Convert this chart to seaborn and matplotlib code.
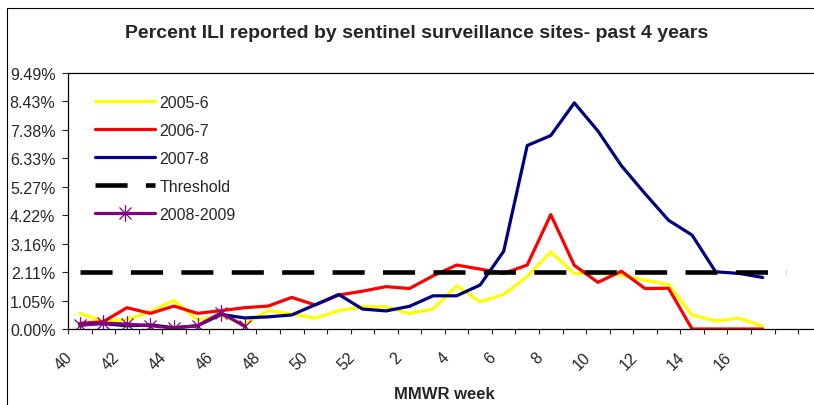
import numpy as np
import pandas as pd
import seaborn as sns
import matplotlib.pyplot as plt
import matplotlib.transforms as mtransforms
from matplotlib.path import Path
from matplotlib.patches import Rectangle

# MMWR weeks on the category axis (last two categories carry no label)
weeks = ['40', '41', '42', '43', '44', '45', '46', '47', '48', '49', '50', '51', '52',
         '1', '2', '3', '4', '5', '6', '7', '8', '9', '10', '11', '12', '13', '14',
         '15', '16', '17', '', '']

ili_2005_6 = [0.58, 0.29, 0.35, 0.64, 1.06, 0.33, 0.50, 0.18, 0.68, 0.56,
              0.40, 0.68, 0.83, 0.82, 0.57, 0.74, 1.60, 1.01, 1.28, 1.94,
              2.86, 2.05, 2.07, 2.00, 1.81, 1.65, 0.52, 0.30, 0.40, 0.11]
ili_2006_7 = [0.21, 0.27, 0.79, 0.58, 0.85, 0.58, 0.68, 0.79, 0.85, 1.17,
              0.89, 1.26, 1.40, 1.57, 1.50, 1.97, 2.37, 2.22, 2.06, 2.37,
              4.24, 2.36, 1.73, 2.14, 1.50, 1.51, 0.00, 0.00, 0.00, 0.00]
ili_2007_8 = [0.17, 0.20, 0.12, 0.15, 0.05, 0.12, 0.54, 0.41, 0.45, 0.52,
              0.90, 1.28, 0.74, 0.67, 0.84, 1.23, 1.23, 1.63, 2.88, 6.80,
              7.17, 8.38, 7.34, 6.05, 5.02, 4.03, 3.48, 2.12, 2.06, 1.91]
threshold = [2.108, 2.108, 2.108, 2.108, 2.108, 2.108, 2.108, 2.108, 2.108, 2.108,
             2.108, 2.108, 2.108, 2.108, 2.108, 2.108, 2.108, 2.108, 2.108, 2.108,
             2.108, 2.108, 2.108, 2.108, 2.108, 2.108, 2.108, 2.108, 2.108, 2.108,
             2.108]
ili_2008_9 = [0.13, 0.22, 0.18, 0.12, 0.04, 0.12, 0.60, 0.10]

y_ticks = [0, 1.0542, 2.1084, 3.1626, 4.2168, 5.271, 6.3252, 7.3794, 8.4336, 9.4878]

sns.set_style("white")
plt.rcParams['font.family'] = ['Liberation Sans', 'DejaVu Sans']

fig = plt.figure(figsize=(8.14, 4.06), dpi=100)
ax = fig.add_axes([68 / 814, 76 / 406, 753.6 / 814, 256 / 406])

# Excel-like asterisk marker: vertical bar plus an X
star = Path([(0, -1), (0, 1), (-0.72, -0.72), (0.72, 0.72), (-0.72, 0.72), (0.72, -0.72)],
            [Path.MOVETO, Path.LINETO] * 3)

series = [
    ('2005-6', ili_2005_6, '#FFFF00', {}),
    ('2006-7', ili_2006_7, '#FF0000', {}),
    ('2007-8', ili_2007_8, '#000080', {}),
    ('Threshold', threshold, '#000000', {'lw': 3.3, 'dashes': (7, 4)}),
    ('2008-2009', ili_2008_9, '#800080', {'marker': star, 'markersize': 12,
                                          'markeredgewidth': 0.9,
                                          'markeredgecolor': '#800080'}),
]

for name, vals, col, extra in series:
    df = pd.DataFrame({'idx': np.arange(len(vals)), 'pct': vals})
    kw = {'lw': 2.3}
    kw.update(extra)
    sns.lineplot(data=df, x='idx', y='pct', color=col, label=name, ax=ax, **kw)

ax.set_xlim(-0.5, len(weeks) - 0.5)
ax.set_ylim(0, y_ticks[-1])

ax.set_yticks(y_ticks)
ax.set_yticklabels([f'{v:.2f}%' for v in y_ticks], fontsize=11.5)

ax.set_xticks(range(0, 29, 2))
ax.set_xticklabels(weeks[0:29:2], rotation=45, ha='right', va='center',
                   rotation_mode='anchor', fontsize=11.5)
ax.set_xticks(np.arange(-0.5, len(weeks)), minor=True)

ax.tick_params(axis='y', which='major', left=True, direction='out', length=4, width=0.8, pad=5)
ax.tick_params(axis='x', which='major', bottom=True, length=0, pad=9)
ax.tick_params(axis='x', which='minor', bottom=True, direction='out', length=3.5, width=0.8)

# nudge the rotated week labels left/down like Excel places them
shift = mtransforms.ScaledTranslation(-0.10, -0.13, fig.dpi_scale_trans)
for lab in ax.get_xticklabels():
    lab.set_transform(lab.get_transform() + shift)

for side in ['left', 'bottom', 'top']:
    ax.spines[side].set_color('black')
    ax.spines[side].set_linewidth(0.9)
ax.spines['right'].set_visible(False)

ax.set_ylabel('')
ax.set_xlabel('MMWR week', fontsize=12, fontweight='bold')
ax.xaxis.set_label_coords(0.5, -0.222)

ax.legend(loc='upper left', bbox_to_anchor=(0.036, 0.916), frameon=False, fontsize=11.5,
          handlelength=3.76, handletextpad=0.28, labelspacing=0.82,
          borderpad=0, borderaxespad=0)

fig.text(0.512, 1 - 33 / 406, 'Percent ILI reported by sentinel surveillance sites- past 4 years',
         ha='center', va='center', fontsize=14, fontweight='bold')

fig.add_artist(Rectangle((7 / 814, -0.5), 2, 1.5 - 9 / 406, transform=fig.transFigure,
                         fill=False, lw=0.8, ec='black'))

fig.savefig('out.png', dpi=100)
